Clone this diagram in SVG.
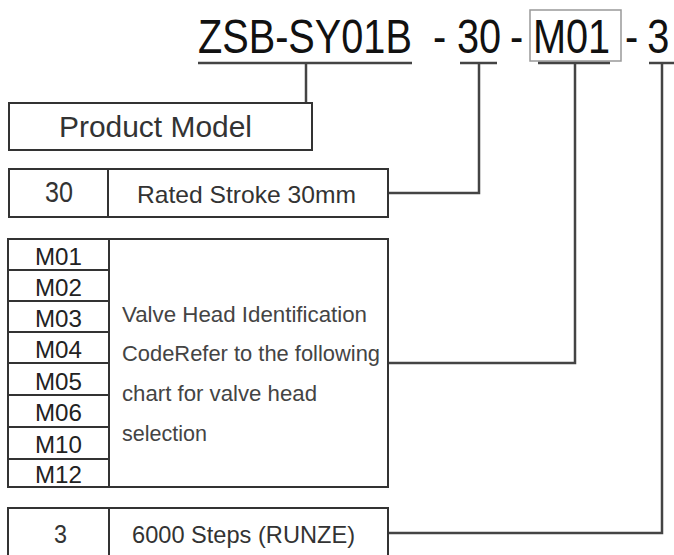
<svg xmlns="http://www.w3.org/2000/svg" width="674" height="555" viewBox="0 0 674 555">
<style>
.box{fill:#fff;stroke:#333;stroke-width:2}
.div{stroke:#333;stroke-width:2}
.con{fill:none;stroke:#444;stroke-width:2.5}
.title{font-family:"Liberation Sans",Arial,sans-serif;font-size:49px;fill:#111}
.lbl{font-family:"Liberation Sans",Arial,sans-serif;fill:#333}
.code{font-family:"Liberation Sans",Arial,sans-serif;font-size:23px;fill:#222}
.para{font-family:"Liberation Sans",Arial,sans-serif;font-size:22px;fill:#444}
</style>
<rect width="674" height="555" fill="#fff"/>
<g id="title">
<rect x="530" y="10" width="91" height="51" fill="none" stroke="#999" stroke-width="1.5"/>
<text class="title" transform="scale(0.81,1)" y="53"><tspan x="244.4">ZSB-SY01B</tspan><tspan x="534.6">-</tspan><tspan x="564.2">30</tspan><tspan x="629.6">-</tspan><tspan x="658">M01</tspan><tspan x="771.6">-</tspan><tspan x="799">3</tspan></text>
</g>
<g id="connectors">
<line class="con" x1="198" y1="63" x2="412" y2="63"/>
<line class="con" x1="306" y1="63" x2="306" y2="103"/>
<line class="con" x1="460" y1="63" x2="497" y2="63"/>
<polyline class="con" points="479,63 479,193 388,193"/>
<line class="con" x1="538" y1="63" x2="610" y2="63"/>
<polyline class="con" points="575,63 575,363 388,363"/>
<line class="con" x1="649" y1="63" x2="674" y2="63"/>
<polyline class="con" points="662,63 662,533 388,533"/>
</g>
<g id="product-model">
<rect class="box" x="9" y="103" width="303" height="47"/>
<text class="lbl" x="59" y="137" font-size="30" textLength="193" lengthAdjust="spacingAndGlyphs">Product Model</text>
</g>
<g id="stroke-30">
<rect class="box" x="9" y="169" width="379" height="48"/>
<line class="div" x1="108" y1="169" x2="108" y2="217"/>
<text class="lbl" x="45" y="202" font-size="30" fill="#222" textLength="28" lengthAdjust="spacingAndGlyphs">30</text>
<text class="lbl" x="137" y="203" font-size="24" textLength="219" lengthAdjust="spacingAndGlyphs">Rated Stroke 30mm</text>
</g>
<g id="valve-head">
<rect class="box" x="8" y="239" width="380" height="248"/>
<line class="div" x1="109" y1="239" x2="109" y2="487"/>
<line class="div" x1="8" y1="270" x2="109" y2="270"/>
<line class="div" x1="8" y1="301" x2="109" y2="301"/>
<line class="div" x1="8" y1="332" x2="109" y2="332"/>
<line class="div" x1="8" y1="363" x2="109" y2="363"/>
<line class="div" x1="8" y1="395" x2="109" y2="395"/>
<line class="div" x1="8" y1="427" x2="109" y2="427"/>
<line class="div" x1="8" y1="459" x2="109" y2="459"/>
<text class="code" x="35" y="265" textLength="47" lengthAdjust="spacingAndGlyphs">M01</text>
<text class="code" x="35" y="296" textLength="47" lengthAdjust="spacingAndGlyphs">M02</text>
<text class="code" x="35" y="327" textLength="47" lengthAdjust="spacingAndGlyphs">M03</text>
<text class="code" x="35" y="358" textLength="47" lengthAdjust="spacingAndGlyphs">M04</text>
<text class="code" x="35" y="390" textLength="47" lengthAdjust="spacingAndGlyphs">M05</text>
<text class="code" x="35" y="421" textLength="47" lengthAdjust="spacingAndGlyphs">M06</text>
<text class="code" x="35" y="453" textLength="47" lengthAdjust="spacingAndGlyphs">M10</text>
<text class="code" x="35" y="483" textLength="47" lengthAdjust="spacingAndGlyphs">M12</text>
<text class="para" x="122" y="322" textLength="245" lengthAdjust="spacingAndGlyphs">Valve Head Identification</text>
<text class="para" x="122" y="361" textLength="258" lengthAdjust="spacingAndGlyphs">CodeRefer to the following</text>
<text class="para" x="122" y="401" textLength="195" lengthAdjust="spacingAndGlyphs">chart for valve head</text>
<text class="para" x="122" y="441" textLength="85" lengthAdjust="spacingAndGlyphs">selection</text>
</g>
<g id="steps-3">
<rect class="box" x="8" y="508" width="380" height="60"/>
<line class="div" x1="109" y1="508" x2="109" y2="555"/>
<text class="lbl" x="54" y="543" font-size="25" fill="#222" textLength="13" lengthAdjust="spacingAndGlyphs">3</text>
<text class="lbl" x="132" y="543" font-size="24" textLength="223" lengthAdjust="spacingAndGlyphs">6000 Steps (RUNZE)</text>
</g>
</svg>
